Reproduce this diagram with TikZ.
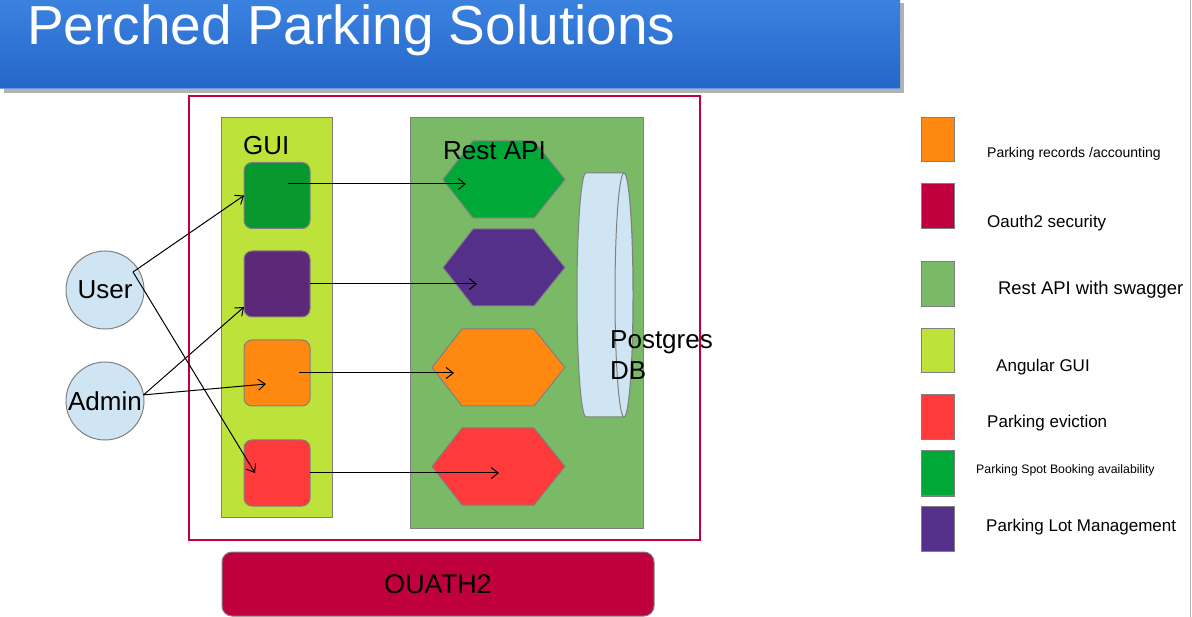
\documentclass[tikz,border=0pt]{standalone}
\usepackage{fontspec}
\setmainfont{Liberation Sans}
\usetikzlibrary{arrows.meta}
\definecolor{TitleTop}{HTML}{3B82DF}
\definecolor{TitleBot}{HTML}{2466C9}
\definecolor{FrameRed}{HTML}{C0003C}
\definecolor{GuiLime}{HTML}{BDE33B}
\definecolor{ApiGreen}{HTML}{7ABA66}
\definecolor{SqGreen}{HTML}{08992E}
\definecolor{SqPurple}{HTML}{5B2978}
\definecolor{HexGreen}{HTML}{00A838}
\definecolor{HexPurple}{HTML}{55308A}
\definecolor{PkOrange}{HTML}{FF8811}
\definecolor{PkRed}{HTML}{FF3A3A}
\definecolor{DbBlue}{HTML}{CFE5F3}
\definecolor{Crimson}{HTML}{C0003E}
\definecolor{EdgeGray}{HTML}{808080}
\newcommand{\fsz}[1]{\fontsize{#1}{#1}\selectfont}

\begin{document}
\begin{tikzpicture}[x=1pt, y=-1pt,
        box/.style={draw=EdgeGray, line width=1pt, inner sep=0pt, outer sep=0pt},
        panel/.style={box, anchor=north west},
        guisq/.style={box, rounded corners=8pt, minimum width=66pt, minimum height=66pt},
        hexb/.style={draw=EdgeGray, line width=1pt},
        actor/.style={box, circle, fill=DbBlue, minimum size=78pt, font=\fsz{26}},
        legsq/.style={box, anchor=north west, minimum width=33pt},
        leglbl/.style={anchor=base west, inner sep=0pt},
        lbl/.style={anchor=base west, inner sep=0pt, font=\fsz{26}},
        arr/.style={-{Straight Barb[length=7pt, width=11pt]}, line width=1pt, black}
    ]
        \useasboundingbox (0,0) rectangle (1192,617);

        % title bar
        \fill[black!30] (4,88) rectangle (904,93);
        \fill[black!30] (900,3) rectangle (904,93);
        \shade[top color=TitleTop, bottom color=TitleBot] (0,0) rectangle (900,89);
        \draw[TitleTop!80!white, line width=1pt] (0,88.5) -- (900,88.5);
        \node[anchor=base west, inner sep=0pt, text=white, font=\fsz{55}] (title) at (27,45) {Perched Parking Solutions};
        \draw[black!30, line width=1pt] (1190,0) -- (1190,617);

        % frame, panels
        \node[draw=FrameRed, line width=2pt, anchor=north west, minimum width=511pt, minimum height=444pt, inner sep=0pt] (frame) at (188,95) {};
        \node[panel, fill=GuiLime, minimum width=111pt, minimum height=399pt] (gui) at (221,118) {};
        \node[panel, fill=ApiGreen, minimum width=233pt, minimum height=410pt] (api) at (410,118) {};
        \node[lbl] (guilbl) at (243,155) {GUI};

        % gui blocks
        \node[guisq, fill=SqGreen] (gsq) at (277,195.5) {};
        \node[guisq, fill=SqPurple] (psq) at (277,284) {};
        \node[guisq, fill=PkOrange] (osq) at (277,373) {};
        \node[guisq, fill=PkRed] (rsq) at (277,473) {};

        % api hexagons
        \foreach \nm/\xl/\yt/\col in {hg/443/141/HexGreen, hp/443/229/HexPurple, ho/432/329/PkOrange, hr/432/428/PkRed} {
            \draw[hexb, fill=\col] (\xl,\yt+38.5) -- (\xl+30,\yt) -- (534,\yt) -- (565,\yt+38.5) -- (534,\yt+77) -- (\xl+30,\yt+77) -- cycle;
            \coordinate (\nm) at (504,\yt+38.5);
        }
        \node[lbl] (apilbl) at (443,160) {Rest API};

        % postgres
        \draw[box, fill=DbBlue] (624,173) -- (586,173) arc[start angle=90, end angle=270, x radius=9pt, y radius=122pt]
            -- (624,417) arc[start angle=-90, end angle=90, x radius=9pt, y radius=122pt] -- cycle;
        \draw[box, fill=DbBlue] (624,295) ellipse[x radius=9pt, y radius=122pt];
        \node[anchor=north west, inner sep=0pt, align=left, font=\fsz{26}] (db) at (610,330.5) {Postgres\\[5pt]DB};

        % actors
        \node[actor] (user) at (105,290) {User};
        \node[actor] (admin) at (105,401) {Admin};

        % oauth bar
        \node[box, fill=Crimson, rounded corners=10pt, anchor=north west, minimum width=432pt, minimum height=64pt, font=\fsz{27}] (oauth) at (222,552) {OUATH2};

        % connectors
        \draw[arr] ([shift={(28,-18)}]user.center) -- (gsq.west);
        \draw[arr] ([shift={(28,-18)}]user.center) -- ([xshift=-22pt]rsq.center);
        \draw[arr] (admin.9) -- ([yshift=10pt]psq.south west);
        \draw[arr] (admin.9) -- ([shift={(-11,11)}]osq.center);
        \draw[arr] ([shift={(11,-11.5)}]gsq.center) -- ([shift={(-38,4.5)}]hg);
        \draw[arr] (psq.east) -- ([shift={(-27,16.5)}]hp);
        \draw[arr] ([xshift=22pt]osq.center) -- ([shift={(-50,5.5)}]ho);
        \draw[arr] (rsq.east) -- ([shift={(-5,6.5)}]hr);

        % legend
        \node[legsq, fill=PkOrange, minimum height=44pt] (k1) at (921,118) {};
        \node[legsq, fill=Crimson, minimum height=45pt] (k2) at (921,184) {};
        \node[legsq, fill=ApiGreen, minimum height=45pt] (k3) at (921,262) {};
        \node[legsq, fill=GuiLime, minimum height=44pt] (k4) at (921,329) {};
        \node[legsq, fill=PkRed, minimum height=45pt] (k5) at (921,395) {};
        \node[legsq, fill=HexGreen, minimum height=45pt] (k6) at (921,451) {};
        \node[legsq, fill=HexPurple, minimum height=45pt] (k7) at (921,506) {};
        \node[leglbl, font=\fsz{14}] (l1) at (987,158) {Parking records /accounting};
        \node[leglbl, font=\fsz{17}] (l2) at (987,228) {Oauth2 security};
        \node[leglbl, font=\fsz{18.4}] (l3) at (998,295) {Rest API with swagger};
        \node[leglbl, font=\fsz{17}] (l4) at (996,372) {Angular GUI};
        \node[leglbl, font=\fsz{17}] (l5) at (987,428) {Parking eviction};
        \node[leglbl, font=\fsz{12.3}] (l6) at (976,474) {Parking Spot Booking availability};
        \node[leglbl, font=\fsz{17}] (l7) at (986,531) {Parking Lot Management};
    \end{tikzpicture}
\end{document}
